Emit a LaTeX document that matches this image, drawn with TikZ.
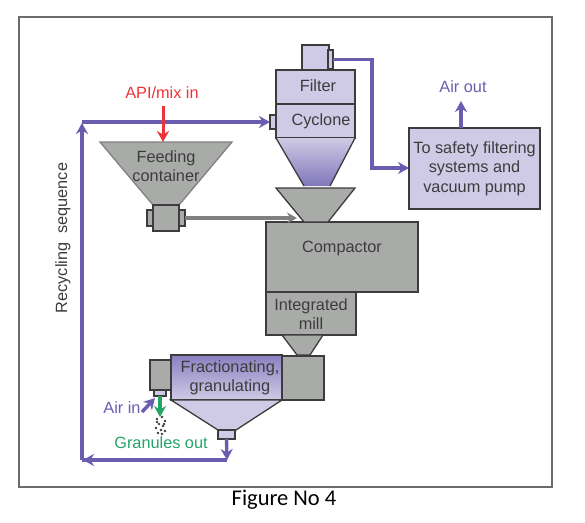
\documentclass[tikz,border=0pt]{standalone}
\usepackage{fontspec}
\setmainfont{Liberation Sans}
\newfontfamily\captionfont{Carlito}
\usetikzlibrary{positioning,arrows.meta,calc}
\definecolor{lav}{HTML}{CFCBE6}
\definecolor{lavdark}{HTML}{7268B3}
\definecolor{flowblue}{HTML}{6A5DB0}
\definecolor{steel}{HTML}{A9ABA9}
\definecolor{edgegray}{HTML}{3C3C3C}
\definecolor{apired}{HTML}{EE3338}
\definecolor{outgreen}{HTML}{23A566}
\tikzset{
  >=Stealth,
  part/.style={draw=edgegray,line width=1.3pt,inner sep=0pt,outer sep=0pt},
  lavbox/.style={part,fill=lav},
  graybox/.style={part,fill=steel},
  lbl/.style={text=edgegray,font=\fontsize{16.3}{19.5}\selectfont,align=center,inner sep=0pt},
  flowline/.style={flowblue,line width=3.4pt},
  flowtip/.style={-{Stealth[length=11pt,width=12pt]}},
}

\begin{document}
\begin{tikzpicture}[x=1pt,y=-1pt]
\useasboundingbox (0,0) rectangle (585,522);
\node[draw=gray!85!black,line width=1.7pt,minimum width=533pt,minimum height=470pt,inner sep=0pt] (frame) at (285.5,252) {};

% cyclone tower
\node[lavbox,minimum width=27pt,minimum height=25pt] (top) at (315.5,57.5) {};
\node[lavbox,minimum width=5pt,minimum height=19pt] (topport) at (330.5,59.5) {};
\node[lavbox,minimum width=79pt,minimum height=34pt] (filter) at (315.5,87) {};
\node[lavbox,minimum width=79pt,minimum height=34pt] (cyclone) at (315.5,121) {};
\node[lavbox,minimum width=6pt,minimum height=14pt] (cycport) at (273,122) {};
\coordinate (coneL) at (304,186);
\coordinate (coneR) at (330,186);
\shade[top color=lav,middle color=lavdark,bottom color=lavdark!85!lav] (cyclone.south west) -- (cyclone.south east) -- (coneR) -- (coneL) -- cycle;
\draw[part] (cyclone.south west) -- (coneL) (cyclone.south east) -- (coneR);

% compactor with its hopper and mill
\node[graybox,minimum width=152pt,minimum height=70pt] (compactor) at (342,257) {};
\node[graybox,minimum width=90pt,minimum height=43pt] (mill) at (311,313.5) {};
\coordinate (hopTL) at (276,188);
\coordinate (hopTR) at (355,188);
\coordinate (hopBR) at (328,222);
\coordinate (hopBL) at (304,222);
\draw[part,fill=steel] (hopTL) -- (hopTR) -- (hopBR) -- (hopBL) -- cycle;
\coordinate (millTL) at (282,335);
\coordinate (millTR) at (323,335);
\coordinate (millBR) at (310,355);
\coordinate (millBL) at (297,355);
\draw[part,fill=steel] (millTL) -- (millTR) -- (millBR) -- (millBL) -- cycle;

% feeding container
\coordinate (feedTL) at (100,142);
\coordinate (feedTR) at (232,142);
\coordinate (feedBR) at (179,205);
\coordinate (feedBL) at (153,205);
\draw[draw=gray,line width=1.3pt,fill=steel] (feedTL) -- (feedTR) -- (feedBR) -- (feedBL) -- cycle;
\node[graybox,minimum width=6pt,minimum height=16pt] (feedportL) at (150,218) {};
\node[graybox,minimum width=6pt,minimum height=16pt] (feedportR) at (182,218) {};
\node[graybox,minimum width=26pt,minimum height=26pt] (feedbox) at (166,218) {};

% granulator
\node[graybox,minimum width=42pt,minimum height=44pt] (granR) at (303,378) {};
\node[graybox,minimum width=21pt,minimum height=30pt] (granL) at (160.5,375) {};
\node[lavbox,minimum width=12pt,minimum height=6pt] (nozzle) at (160,393) {};
\node[part,minimum width=111pt,minimum height=45pt,top color=lavdark!75!lav,bottom color=lav] (gran) at (226.5,377.5) {};
\coordinate (granBR) at (236,430);
\coordinate (granBL) at (218,430);
\draw[part,fill=lav] (gran.south west) -- (gran.south east) -- (granBR) -- (granBL) -- cycle;
\node[lavbox,minimum width=17pt,minimum height=9pt] (outlet) at (226.5,434.5) {};

% vacuum box
\node[lavbox,minimum width=131pt,minimum height=81pt] (vacuum) at (474.5,168.5) {};

% labels
\node[lbl] (filtertxt) at (318,86) {Filter};
\node[lbl] (cyclonetxt) at (321,121) {Cyclone};
\node[lbl] (compactortxt) at (342,248) {Compactor};
\node[lbl] (milltxt) at (311,314) {Integrated\\mill};
\node[lbl] (feedtxt) at (166,166) {Feeding\\container};
\node[lbl] (grantxt) at (230,378) {Fractionating,\\granulating};
\node[lbl] (vacuumtxt) at (474.5,168.5) {To safety filtering\\systems and\\vacuum pump};
\node[lbl,text=flowblue] (airout) at (463,87) {Air out};
\node[lbl,text=apired] (apiin) at (162,93) {API/mix in};
\node[lbl,text=flowblue] (airin) at (122,408) {Air in};
\node[lbl,text=outgreen] (granout) at (161,443) {Granules out};
\node[lbl,rotate=90] (recycle) at (63,238) {Recycling\ \ sequence};
\node[font=\captionfont\fontsize{22.5}{24}\selectfont,inner sep=0pt] (caption) at (284,500) {Figure No 4};

% flows
\coordinate (pipeA) at (372,59.5);
\coordinate (pipeB) at (372,168);
\draw[flowline,flowtip] (topport.east) -- (pipeA) -- (pipeB) -- (vacuum.west |- pipeB);
\coordinate (airfoot) at (461,128);
\coordinate (airtip) at (461,101);
\draw[flowline,flowtip] (airfoot) -- (airtip);
\coordinate (recA) at (227,460);
\coordinate (recB) at (82,460);
\coordinate (recBtip) at (83,460);
\coordinate (recC) at (82,122);
\coordinate (recCtip) at (82,123);
\draw[flowline,flowtip] (outlet.south) -- (recA);
\draw[flowline,flowtip] (recA) -- (recBtip);
\draw[flowline] (recA) -- (recB);
\draw[flowline,flowtip] (recB) -- (recCtip);
\draw[flowline,flowtip] (recC) -- (cycport.west);
\coordinate (apifoot) at (163,106);
\draw[apired,line width=3pt,flowtip] (apifoot) -- (apifoot |- feedTL);
\coordinate (grayend) at (297,218);
\draw[gray,line width=3.2pt,-{Stealth[length=10pt,width=11pt]}] (feedportR.east) -- (grayend);
\coordinate (greenend) at (160,417);
\draw[outgreen,line width=3.2pt,flowtip] (nozzle.south) -- (greenend);
\coordinate (airA) at (142,412);
\coordinate (airB) at (155,398);
\draw[flowline,flowtip] (airA) -- (airB);
% granules falling
\foreach \gx/\gy in {157/419,162/417,165/421,159/424,163/426,156/428,161/430,165/431,158/433,162/434,157/422,164/424}
  \fill[edgegray] (\gx,\gy) circle (1.3pt);
\end{tikzpicture}
\end{document}
